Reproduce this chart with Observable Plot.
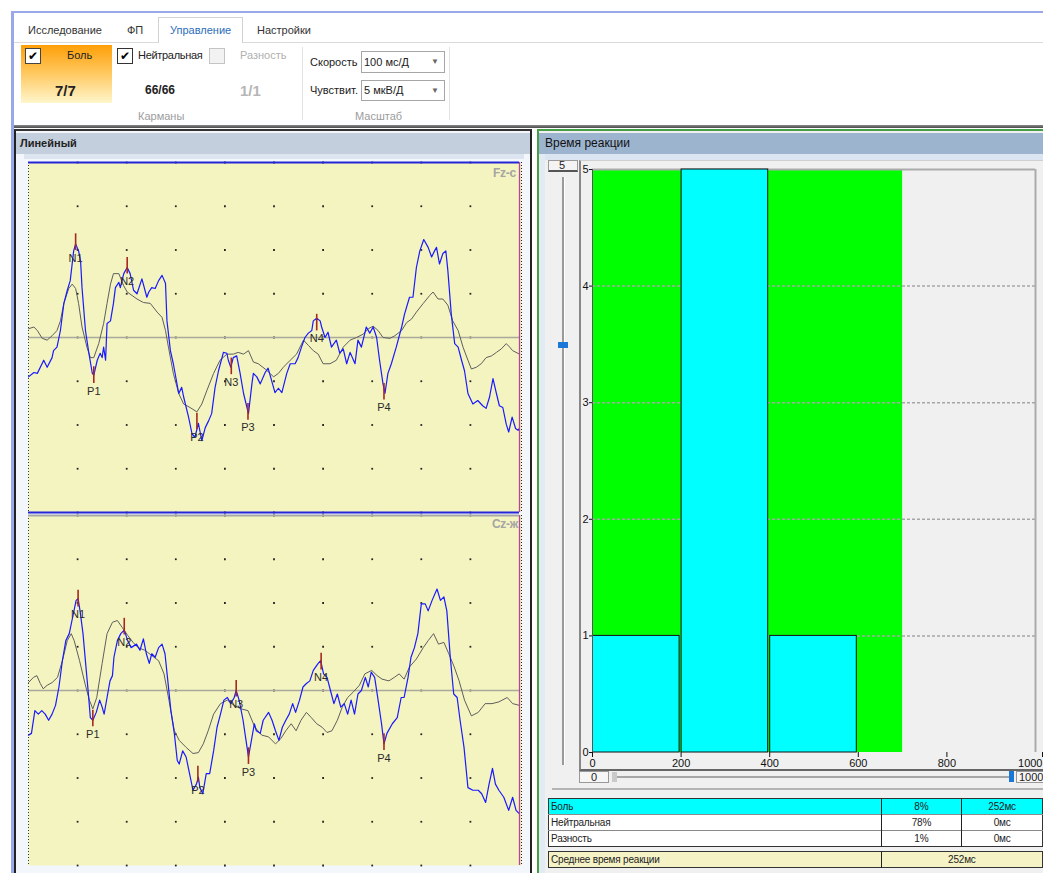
<!DOCTYPE html>
<html><head><meta charset="utf-8">
<script src="https://cdn.jsdelivr.net/npm/d3@7"></script>
<script src="https://cdn.jsdelivr.net/npm/@observablehq/plot@0.6"></script>
<style>
body{margin:0;width:1043px;height:873px;overflow:hidden;background:#fff;font-family:"Liberation Sans",Arial,sans-serif;position:relative}
.a{position:absolute;box-sizing:border-box}
.t{position:absolute;white-space:nowrap;line-height:1;font-size:11px;color:#222}
.cb{position:absolute;width:16px;height:16px;box-sizing:border-box;background:#fff;border:1px solid #333;font:bold 12px "DejaVu Sans";line-height:14px;text-align:center;color:#000}
.dd{position:absolute;box-sizing:border-box;border:1px solid #a6a6a6;background:#fff}
.dd span{position:absolute;right:5px;top:5px;font-size:8px;color:#666}
table{border-collapse:collapse;font-size:10px;color:#222;table-layout:fixed;letter-spacing:-0.2px}
td{padding:0 2px;height:15px;line-height:14px;white-space:nowrap;overflow:hidden}
</style></head><body>

<!-- window border -->
<div class="a" style="left:11px;top:11px;width:1032px;height:2px;background:#9aa8ea"></div>
<div class="a" style="left:11px;top:11px;width:3px;height:862px;background:#9aa8ea"></div>

<!-- tabs -->
<div class="a" style="left:14px;top:42px;width:1029px;height:1px;background:#dadada"></div>
<div class="a" style="left:158px;top:17px;width:85px;height:26px;border:1px solid #d2d2d2;border-bottom:none;background:#fff"></div>
<div class="t" style="left:28px;top:25px;font-size:11px;color:#333">Исследование</div>
<div class="t" style="left:127px;top:25px;font-size:11px;color:#333">ФП</div>
<div class="t" style="left:170px;top:25px;font-size:11px;color:#2a6dbb">Управление</div>
<div class="t" style="left:257px;top:25px;font-size:11px;color:#333">Настройки</div>

<!-- ribbon -->
<div class="a" style="left:21px;top:45px;width:91px;height:58px;background:linear-gradient(#ff9f08,#ffc558 45%,#fff6cc)"></div>
<div class="cb" style="left:25px;top:48px;border-color:#444">✔</div>
<div class="t" style="left:67px;top:50px;font-size:11px">Боль</div>
<div class="t" style="left:55px;top:83px;font-size:15px;font-weight:bold">7/7</div>
<div class="cb" style="left:117px;top:48px">✔</div>
<div class="t" style="left:138px;top:50px;font-size:11px;letter-spacing:-0.3px">Нейтральная</div>
<div class="cb" style="left:209px;top:48px;border-color:#c4c4c4;background:#f2f2f2"></div>
<div class="t" style="left:240px;top:50px;font-size:11px;color:#b0b0b0">Разность</div>
<div class="t" style="left:145px;top:84px;font-size:12px;font-weight:bold">66/66</div>
<div class="t" style="left:240px;top:83px;font-size:15px;font-weight:bold;color:#b6b6b6">1/1</div>
<div class="t" style="left:138px;top:111px;font-size:11px;color:#9c9c9c">Карманы</div>
<div class="a" style="left:302px;top:47px;width:1px;height:73px;background:#e2e2e2"></div>
<div class="t" style="left:310px;top:57px;font-size:11px">Скорость</div>
<div class="dd" style="left:361px;top:51px;width:84px;height:22px"><span>▼</span></div>
<div class="t" style="left:364px;top:57px;font-size:11px">100 мс/Д</div>
<div class="t" style="left:310px;top:85px;font-size:11px">Чувствит.</div>
<div class="dd" style="left:361px;top:80px;width:84px;height:21px"><span>▼</span></div>
<div class="t" style="left:364px;top:85px;font-size:11px">5 мкВ/Д</div>
<div class="t" style="left:355px;top:111px;font-size:11px;color:#9c9c9c">Масштаб</div>
<div class="a" style="left:449px;top:47px;width:1px;height:73px;background:#e2e2e2"></div>
<div class="a" style="left:14px;top:125px;width:1029px;height:3px;background:linear-gradient(#8a8a8a,#4a4a4a)"></div>

<!-- left panel -->
<div class="a" style="left:14px;top:129px;width:518px;height:744px;border-left:2px solid #222;border-right:2px solid #222;border-top:2px solid #333;background:#f3f6fb"></div>
<div class="a" style="left:16px;top:133px;width:514px;height:21px;background:#c3cfdc"></div>
<div class="a" style="left:24px;top:154px;width:500px;height:5px;background:#dde6f0"></div>
<div class="t" style="left:20px;top:138px;font-size:11px;font-weight:bold;color:#222">Линейный</div>
<div id="fz" class="a" style="left:27px;top:161px"></div>
<div id="cz" class="a" style="left:27px;top:514px"></div>
<div class="t" style="left:493px;top:167px;font-size:12px;font-weight:bold;color:#a4a4a4;letter-spacing:-0.3px">Fz-c</div>
<div class="t" style="left:492px;top:518px;font-size:12px;font-weight:bold;color:#a4a4a4;letter-spacing:-0.3px">Cz-ж</div>

<!-- right panel -->
<div class="a" style="left:537px;top:129px;width:506px;height:744px;border-left:2px solid #45a045;border-top:2px solid #45a045;background:#f0f0f0"></div>
<div class="a" style="left:539px;top:133px;width:504px;height:21px;background:#9db4cf"></div>
<div class="a" style="left:539px;top:154px;width:504px;height:6px;background:#dbe5f1"></div>
<div class="a" style="left:539px;top:154px;width:6px;height:719px;background:#e2eaf4"></div>
<div class="t" style="left:545px;top:137px;font-size:12px;color:#111">Время реакции</div>

<div class="a" style="left:548px;top:160px;width:30px;height:12px;background:#f4f4f4;border:1px solid #9a9a9a;border-bottom:2px solid #555"></div>
<div class="t" style="left:559px;top:160px;font-size:11px">5</div>
<div class="a" style="left:562px;top:177px;width:3px;height:588px;background:#9a9a9a;border-right:1px solid #fff"></div>
<div class="a" style="left:558px;top:342px;width:10px;height:6px;background:#1b78d6"></div>

<div class="a" style="left:579px;top:160px;width:464px;height:611px;border-left:2px solid #888;border-bottom:2px solid #666;border-top:1px solid #cfcfcf;background:#f0f0f0"></div>
<div id="hist" class="a" style="left:580px;top:160px"></div>

<div class="a" style="left:579px;top:771px;width:30px;height:12px;background:#f6f6f6;border:1px solid #999"></div>
<div class="t" style="left:591px;top:772px;font-size:11px">0</div>
<div class="a" style="left:612px;top:776px;width:400px;height:2px;background:#a6a6a6"></div>
<div class="a" style="left:612px;top:772px;width:5px;height:10px;background:#cacaca"></div>
<div class="a" style="left:1009px;top:771px;width:5px;height:11px;background:#1b78d6"></div>
<div class="a" style="left:1016px;top:771px;width:32px;height:12px;background:#f6f6f6;border:1px solid #999"></div>
<div class="t" style="left:1019px;top:772px;font-size:11px">1000</div>

<div class="a" style="left:552px;top:788px;width:491px;height:2px;background:#b4b4b4"></div>
<div id="tbl" class="a" style="left:548px;top:798px"></div>
<div id="tbl2" class="a" style="left:548px;top:851px"></div>

<script>
// ---------------- data ----------------
// Averaged evoked responses (time in ms, amplitude in µV, negative drawn upward)
const fzPain = [[0,4.5],[11,4.0],[18,4.1],[31,2.6],[38,3.4],[48,2.3],[51,1.5],[58,1.1],[65,-0.8],[72,-3.9],[79,-5.4],[85,-6.5],[92,-9.9],[96,-10.7],[102,-9.9],[106,-8.8],[109,-5.7],[116,-0.8],[123,1.8],[130,4.1],[133,4.3],[140,2.6],[146,1.8],[150,2.3],[153,1.1],[157,2.6],[160,-1.6],[167,-1.9],[173,-3.9],[177,-5.7],[184,-6.3],[187,-5.7],[194,-7.3],[201,-8.0],[207,-7.3],[214,-5.4],[221,-5.0],[231,-6.7],[241,-4.6],[245,-5.2],[251,-5.7],[258,-5.6],[265,-6.5],[272,-7.1],[279,-6.2],[282,-1.9],[289,1.5],[295,3.0],[306,6.4],[312,5.7],[316,6.8],[326,9.1],[333,11.0],[339,11.4],[346,9.8],[353,11.8],[360,10.3],[367,9.5],[373,8.7],[380,5.7],[387,3.8],[397,1.7],[404,1.8],[407,2.6],[412,3.4],[417,2.3],[424,2.1],[431,4.1],[438,6.4],[448,8.7],[455,5.3],[458,4.1],[465,4.5],[472,5.3],[482,4.0],[488,3.5],[495,4.9],[502,6.3],[509,5.8],[516,6.3],[526,4.1],[533,3.0],[543,3.0],[549,2.3],[556,1.1],[563,0],[570,-0.5],[577,-0.8],[580,-1.9],[587,-2.2],[594,-1.9],[597,-1.2],[604,0],[610,-0.6],[617,1.1],[627,0.3],[634,1.8],[641,1.3],[648,3.0],[655,1.7],[665,3.0],[671,0.3],[678,1.1],[688,-1.2],[695,-0.5],[702,-1.2],[709,0],[715,2.6],[722,5.3],[726,6.4],[732,4.1],[739,3.0],[749,1.1],[760,-1.2],[766,-2.7],[776,-4.6],[783,-4.6],[790,-8.0],[797,-9.9],[805,-11.2],[814,-10.3],[821,-9.2],[827,-9.9],[831,-10.3],[837,-8.4],[844,-9.6],[850,-9.9],[854,-7.7],[861,-2.7],[868,0.7],[875,1.1],[882,2.6],[888,3.8],[895,6.4],[905,7.6],[915,7.2],[925,7.8],[932,8.1],[939,6.8],[946,4.7],[953,6.4],[959,7.8],[966,8.0],[973,9.9],[978,10.8],[985,9.1],[992,10.4],[997,10.6],[1000,10.4]];
const fzNeutral = [[0,-1.0],[11,-1.2],[18,-0.8],[28,0.1],[38,0.3],[48,-0.2],[58,-0.8],[65,-1.9],[72,-3.9],[82,-5.6],[89,-6.1],[96,-5.6],[102,-3.9],[109,-1.2],[119,1.1],[126,2.3],[133,2.3],[143,0.7],[153,-1.6],[160,-3.9],[167,-6.1],[173,-7.3],[184,-7.3],[194,-5.9],[201,-5.2],[211,-4.8],[221,-4.4],[234,-4.0],[248,-3.9],[262,-2.9],[272,-2.3],[279,-0.8],[285,1.1],[295,4.1],[306,6.4],[316,7.6],[329,8.0],[343,8.5],[353,7.6],[363,6.1],[377,4.1],[390,2.6],[404,1.9],[417,1.9],[427,1.7],[438,1.9],[448,1.5],[458,2.8],[468,3.0],[482,3.6],[492,4.1],[499,4.5],[509,4.1],[519,3.4],[533,2.6],[546,1.9],[560,0.3],[570,0.9],[580,1.5],[590,1.9],[600,3.0],[614,3.0],[627,2.6],[641,1.1],[655,0.3],[668,0],[682,-0.4],[692,-1.0],[702,-1.3],[712,-0.8],[722,0],[736,0.1],[746,-0.2],[760,-0.8],[770,-1.7],[780,-2.1],[790,-2.9],[804,-3.9],[817,-4.8],[824,-5.2],[834,-4.4],[844,-4.4],[854,-3.7],[864,-1.9],[875,-0.8],[885,1.1],[895,2.6],[902,3.6],[912,3.4],[922,3.0],[932,2.3],[943,2.1],[953,1.7],[963,1.3],[973,0.7],[980,1.1],[986,1.5],[1000,1.9]];
const czPain = [[0,5.1],[6,4.9],[13,2.3],[20,2.7],[27,2.3],[34,2.7],[41,3.4],[48,2.7],[55,1.7],[62,-0.4],[69,-3.4],[76,-5.7],[83,-6.5],[90,-8.4],[97,-10.3],[101,-10.5],[105,-9.1],[111,-6.5],[117,-2.7],[122,0.4],[126,3.1],[131,3.4],[138,2.5],[145,1.1],[150,1.9],[154,2.7],[160,0.8],[166,-1.1],[171,-1.7],[174,-3.8],[181,-5.7],[188,-6.5],[195,-6.9],[202,-5.7],[209,-4.9],[220,-5.3],[227,-4.6],[234,-5.9],[240,-4.2],[246,-3.1],[251,-4.2],[258,-3.8],[265,-4.9],[272,-5.3],[278,-4.2],[283,-1.5],[290,2.3],[297,4.9],[303,8.0],[307,8.4],[314,6.9],[321,7.6],[328,9.5],[335,11.4],[342,10.7],[346,9.9],[349,11.1],[355,11.8],[362,9.5],[369,9.5],[377,6.9],[384,4.2],[391,2.7],[398,1.1],[405,0.8],[412,1.5],[419,0.8],[423,0],[429,1.1],[437,3.4],[443,5.7],[448,7.6],[454,5.7],[460,3.8],[464,4.6],[472,4.9],[478,3.4],[489,2.5],[496,3.4],[503,4.6],[510,5.7],[517,4.2],[524,3.4],[531,2.7],[538,1.5],[544,2.5],[552,1.1],[559,-0.4],[566,-0.8],[573,-1.1],[580,-2.3],[590,-3.1],[595,-3.4],[601,-1.9],[608,-1.5],[615,0],[622,1.5],[629,0.4],[636,1.9],[643,1.5],[650,2.7],[657,1.1],[664,2.7],[671,0.4],[678,0],[686,-1.5],[692,-0.4],[698,-2.1],[705,-1.5],[712,1.1],[719,3.8],[724,6.1],[730,4.9],[741,3.8],[751,3.1],[759,0.8],[765,0.8],[773,-1.5],[779,-3.8],[786,-4.9],[793,-6.5],[800,-9.9],[808,-9.9],[814,-9.1],[822,-10.3],[832,-11.6],[839,-10.3],[846,-10.7],[852,-9.1],[859,-3.8],[866,0.4],[873,0.8],[879,3.4],[887,6.5],[895,11.1],[905,11.4],[916,11.4],[923,11.8],[931,12.8],[938,10.7],[945,8.9],[951,10.7],[958,11.4],[968,12.2],[978,13.7],[986,12.2],[993,13.7],[1000,14.1]];
const czNeutral = [[0,-0.9],[10,-1.5],[17,-1.7],[24,-0.8],[30,-0.2],[38,-0.6],[48,-0.9],[59,-1.5],[69,-3.4],[79,-5.7],[87,-6.5],[93,-5.7],[104,-3.4],[115,-0.8],[124,1.1],[131,2.1],[139,0.8],[150,-3.1],[160,-6.5],[171,-7.8],[181,-8.0],[191,-7.2],[202,-6.3],[213,-5.5],[223,-4.9],[237,-4.6],[251,-4.0],[265,-3.4],[276,-1.9],[286,1.1],[297,4.6],[307,5.7],[321,6.5],[335,7.2],[346,7.1],[356,6.1],[366,4.6],[377,2.7],[391,1.5],[405,1.1],[419,1.7],[433,2.1],[447,2.3],[461,4.2],[475,5.1],[489,5.3],[503,6.1],[514,5.5],[524,4.6],[535,3.8],[545,4.6],[555,3.4],[566,2.5],[576,3.1],[587,3.8],[598,4.2],[608,4.8],[618,4.6],[629,3.4],[639,1.9],[650,0.8],[661,0.2],[674,-0.6],[685,-1.9],[699,-2.3],[710,-1.7],[720,-1.3],[734,-1.1],[745,-1.5],[755,-1.9],[765,-1.3],[776,-2.7],[790,-3.6],[804,-4.9],[814,-5.7],[825,-6.5],[835,-5.3],[846,-5.5],[856,-4.2],[867,-2.7],[877,-1.1],[888,1.1],[902,2.9],[916,2.5],[930,1.5],[944,1.5],[958,1.3],[975,0.8],[986,1.5],[1000,1.7]];

const peakLabels   = ["N1","P1","N2","P2","N3","P3","N4","P4"];
const fzPeakTimes  = [96,133,201,343,413,447,587,724];
const fzPeakValues = [-10.9,4.3,-8.2,9.6,3.3,8.5,-1.7,6.2];
const czPeakTimes  = [101,131,195,345,423,448,596,724];
const czPeakValues = [-10.5,3.2,-7.3,9.6,-0.2,7.5,-3.3,5.9];

const gridTimes = [100,200,300,400,500,600,700,800,900];   // 100 мс/Д
const gridVolts = [-20,-15,-10,-5,0,5,10,15,20];           // 5 мкВ/Д

// reaction time histogram
const binStarts = [0,200,400];
const binEnds   = [200,400,600];
const painCounts = [1,5,1];
const responseWindow = [0,700];
const histXTicks = [0,200,400,600,800,1000];
const histYTicks = [0,1,2,3,4,5];

// summary table
const rowNames    = ["Боль","Нейтральная","Разность"];
const rowPercents = ["8%","78%","1%"];
const rowTimes    = ["252мс","0мс","0мс"];
const meanLabel = "Среднее время реакции";
const meanValue = "252мс";

// ---------------- charts ----------------
const FONT = '"Liberation Sans", Arial, sans-serif';
const gridPts = gridTimes.flatMap(t => gridVolts.map(v => ({t, v})));

function eeg(pain, neutral, pTimes, pValues, selected) {
  const peaks = peakLabels.map((l, i) => ({l, t: pTimes[i], v: pValues[i]}));
  const edge = selected ? "#2424d8" : "#a8a8a8";
  return Plot.plot({
    width: 496, height: 352,
    marginLeft: 1, marginRight: 4, marginTop: 1, marginBottom: 1,
    x: {domain: [0, 1000], axis: null},
    y: {domain: [-20, 20], reverse: true, axis: null},
    style: {background: "transparent", overflow: "visible", fontFamily: FONT},
    marks: [
      Plot.frame({fill: "#f4f4c1", stroke: null, insetRight: -2}),
      Plot.dot(gridPts, {x: "t", y: "v", r: 1, symbol: "square", fill: "#222", stroke: null}),
      Plot.ruleY([0], {stroke: "#a9a99c", strokeWidth: 1.6}),
      Plot.line(neutral, {x: d => d[0], y: d => d[1], stroke: "#5e5e5e", strokeWidth: 1}),
      Plot.line(pain, {x: d => d[0], y: d => d[1], stroke: "#1a1aff", strokeWidth: 1.2}),
      Plot.ruleX(peaks, {x: "t", y1: d => d.v - 0.95, y2: d => d.v + 0.95, stroke: "#a8281e", strokeWidth: 1.6}),
      Plot.text(peaks, {x: "t", y: "v", text: "l", dy: 16, fontSize: 11, fill: "#2b2b2b"}),
      Plot.ruleX([0], {stroke: "#333", strokeDasharray: "1,2"}),
      Plot.ruleX([1000], {stroke: "#b8449e", strokeWidth: 1.3}),
      Plot.ruleX([1000], {dx: 2, stroke: "#222", strokeDasharray: "1,2"}),
      Plot.ruleY([-20], {stroke: edge, strokeWidth: 2}),
      selected ? Plot.ruleY([20], {stroke: edge, strokeWidth: 2}) : null
    ]
  });
}

document.getElementById("fz").append(eeg(fzPain, fzNeutral, fzPeakTimes, fzPeakValues, true));
document.getElementById("cz").append(eeg(czPain, czNeutral, czPeakTimes, czPeakValues, false));

const bins = binStarts.map((s, i) => ({x1: s, x2: binEnds[i], n: painCounts[i]}));
const lastTick = histXTicks[histXTicks.length - 1];
document.getElementById("hist").append(Plot.plot({
  width: 463, height: 610,
  marginLeft: 12, marginRight: 8, marginTop: 9, marginBottom: 18,
  x: {domain: [0, 1000]},
  y: {domain: [0, 5]},
  style: {background: "transparent", fontSize: "11px", fontFamily: FONT, color: "#111", overflow: "visible"},
  marks: [
    Plot.rect([responseWindow], {x1: d => d[0], x2: d => d[1], y1: 0, y2: 5, fill: "#00ff00"}),
    Plot.ruleY([1, 2, 3, 4], {stroke: "#a6a6a6", strokeWidth: 1.5, strokeDasharray: "3,2"}),
    Plot.ruleY([5], {stroke: "#ababab", strokeWidth: 2}),
    Plot.ruleX([1000], {stroke: "#ababab", strokeWidth: 2}),
    Plot.rect(bins, {x1: "x1", x2: "x2", y1: 0, y2: "n", fill: "#00ffff", stroke: "#111", strokeWidth: 1, insetLeft: 0.5, insetRight: 1.5}),
    Plot.ruleX([0], {stroke: "#555"}),
    Plot.axisY({ticks: histYTicks, tickSize: 3, tickPadding: 1, tickFormat: d => String(d), label: null}),
    Plot.axisX({ticks: histXTicks.slice(0, -1), tickSize: 5, tickPadding: 2, tickFormat: d => String(d), label: null}),
    Plot.axisX({ticks: [lastTick], tickSize: 5, tickPadding: 2, tickFormat: d => String(d), textAnchor: "end", dx: 7, label: null})
  ]
}));

// ---------------- table ----------------
function table(rows, widths, bgs) {
  const t = document.createElement("table");
  t.style.border = "1px solid #333";
  const cg = document.createElement("colgroup");
  widths.forEach(w => { const c = document.createElement("col"); c.style.width = w + "px"; cg.append(c); });
  t.append(cg);
  rows.forEach((r, i) => {
    const tr = document.createElement("tr");
    tr.style.background = bgs[i];
    r.forEach((v, j) => {
      const td = document.createElement("td");
      td.textContent = v;
      td.style.borderTop = i ? "1px solid #8a8a8a" : "none";
      td.style.borderLeft = j ? "1px solid #222" : "none";
      td.style.textAlign = j ? "center" : "left";
      tr.append(td);
    });
    t.append(tr);
  });
  return t;
}
document.getElementById("tbl").append(table(
  rowNames.map((n, i) => [n, rowPercents[i], rowTimes[i]]),
  [334, 81, 81], ["#00ffff", "#ffffff", "#ffffff"]));
document.getElementById("tbl2").append(table(
  [[meanLabel, meanValue]], [334, 162], ["#f5f3c6"]));
</script>
</body></html>
